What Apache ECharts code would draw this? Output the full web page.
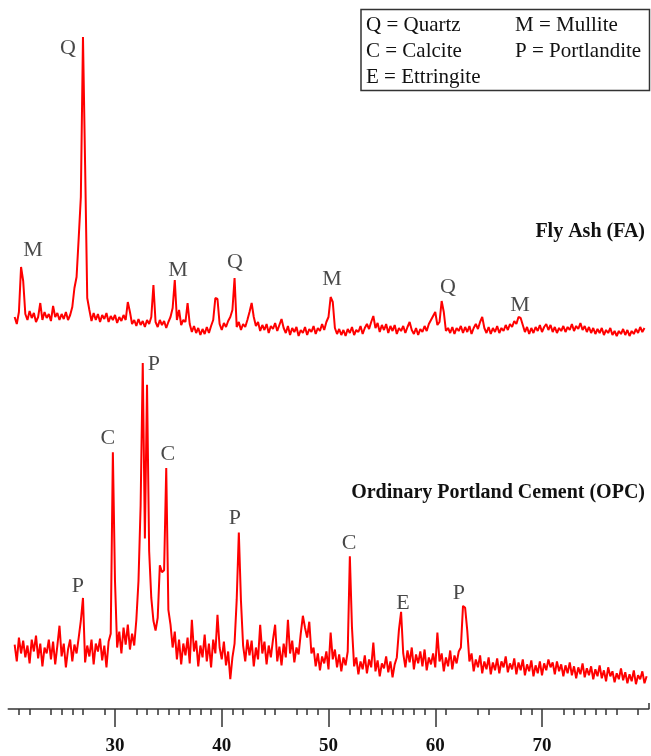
<!DOCTYPE html>
<html>
<head>
<meta charset="utf-8">
<script src="https://cdn.jsdelivr.net/npm/echarts@6/dist/echarts.min.js"></script>
<style>
html,body{margin:0;padding:0;background:#fff;}
#chart{width:651px;height:756px;}
</style>
</head>
<body>
<div id="chart"></div>
<script>
// ---- Data (2θ in degrees, intensity in arbitrary counts) ----
const twoThetaStart = 20.6;
const twoThetaStep = 0.2;

// Fly Ash (FA) intensities, 2θ = 20.6, 20.8, ... (five values per degree row)
const faIntensity = [
  330, 260, 380, 830, 690,   // 20.6-21.4
  360, 300, 390, 320, 370,   // 21.6-22.4
  280, 330, 470, 300, 380,   // 22.6-23.4
  320, 360, 290, 440, 330,   // 23.6-24.4
  370, 300, 360, 310, 380,   // 24.6-25.4
  300, 350, 430, 620, 730,   // 25.6-26.4
  1120, 1530, 3130, 1850, 520, // 26.6-27.4
  400, 290, 370, 300, 360,   // 27.6-28.4
  280, 350, 310, 370, 280,   // 28.6-29.4
  340, 300, 350, 270, 330,   // 29.6-30.4
  290, 350, 300, 480, 380,   // 30.6-31.4
  260, 300, 240, 310, 250,   // 31.6-32.4
  290, 230, 300, 260, 330,   // 32.6-33.4
  650, 280, 230, 300, 250,   // 33.6-34.4
  290, 220, 280, 330, 420,   // 34.6-35.4
  700, 300, 400, 250, 300,   // 35.6-36.4
  280, 470, 260, 180, 240,   // 36.6-37.4
  170, 220, 150, 210, 160,   // 37.6-38.4
  230, 170, 240, 300, 520,   // 38.6-39.4
  510, 260, 200, 270, 230,   // 39.6-40.4
  290, 330, 400, 720, 230,   // 40.6-41.4
  280, 200, 260, 230, 300,   // 41.6-42.4
  380, 470, 330, 240, 280,   // 42.6-43.4
  190, 250, 200, 260, 170,   // 43.6-44.4
  240, 210, 270, 190, 250,   // 44.6-45.4
  310, 220, 170, 240, 150,   // 45.6-46.4
  220, 180, 230, 140, 200,   // 46.6-47.4
  170, 230, 150, 210, 180,   // 47.6-48.4
  240, 160, 220, 190, 260,   // 48.6-49.4
  200, 280, 330, 530, 480,   // 49.6-50.4
  220, 160, 210, 150, 200,   // 50.6-51.4
  140, 210, 170, 230, 150,   // 51.6-52.4
  200, 180, 240, 160, 220,   // 52.6-53.4
  260, 210, 280, 340, 220,   // 53.6-54.4
  270, 180, 250, 200, 260,   // 54.6-55.4
  170, 240, 190, 250, 160,   // 55.6-56.4
  220, 190, 240, 170, 230,   // 56.6-57.4
  280, 200, 160, 220, 150,   // 57.6-58.4
  210, 180, 240, 190, 260,   // 58.6-59.4
  300, 340, 380, 250, 280,   // 59.6-60.4
  490, 380, 190, 220, 170,   // 60.6-61.4
  230, 160, 220, 190, 240,   // 61.6-62.4
  170, 230, 180, 240, 160,   // 62.6-63.4
  220, 260, 210, 280, 330,   // 63.6-64.4
  220, 170, 230, 160, 220,   // 64.6-65.4
  180, 240, 170, 220, 190,   // 65.6-66.4
  250, 200, 260, 230, 290,   // 66.6-67.4
  260, 330, 320, 250, 180,   // 67.6-68.4
  230, 160, 220, 170, 230,   // 68.6-69.4
  190, 250, 180, 230, 260,   // 69.6-70.4
  200, 250, 180, 230, 170,   // 70.6-71.4
  220, 190, 240, 180, 230,   // 71.6-72.4
  200, 260, 190, 240, 210,   // 72.6-73.4
  270, 200, 240, 180, 230,   // 73.6-74.4
  170, 220, 160, 210, 170,   // 74.6-75.4
  220, 150, 200, 170, 220,   // 75.6-76.4
  150, 190, 140, 190, 160,   // 76.6-77.4
  210, 150, 200, 140, 190,   // 77.6-78.4
  160, 210, 170, 230, 180,   // 78.6-79.4
  220                        // 79.6
];

// Ordinary Portland Cement (OPC) intensities, same 2θ grid
const opcIntensity = [
  650, 480, 720, 560, 690,   // 20.6-21.4
  520, 640, 460, 700, 580,   // 21.6-22.4
  740, 510, 660, 430, 620,   // 22.6-23.4
  560, 700, 500, 680, 450,   // 23.6-24.4
  640, 840, 530, 660, 420,   // 24.6-25.4
  600, 700, 480, 650, 560,   // 25.6-26.4
  720, 890, 1120, 470, 640,  // 26.6-27.4
  530, 700, 450, 660, 580,   // 27.6-28.4
  710, 490, 640, 420, 680,   // 28.6-29.4
  760, 2590, 1290, 620, 780, // 29.6-30.4
  560, 820, 650, 850, 600,   // 30.6-31.4
  760, 640, 900, 1290, 2050, // 31.6-32.4
  3490, 1720, 3270, 1590, 1120, // 32.6-33.4
  890, 790, 920, 1450, 1380, // 33.6-34.4
  1400, 2430, 1000, 850, 620, // 34.6-35.4
  780, 500, 700, 450, 660,   // 35.6-36.4
  540, 720, 460, 900, 580,   // 36.6-37.4
  690, 430, 640, 520, 750,   // 37.6-38.4
  480, 660, 420, 700, 560,   // 38.6-39.4
  950, 620, 500, 680, 440,   // 39.6-40.4
  580, 300, 520, 660, 1100,  // 40.6-41.4
  1780, 1090, 640, 480, 700, // 41.6-42.4
  540, 690, 430, 620, 500,   // 42.6-43.4
  850, 560, 680, 450, 640,   // 43.6-44.4
  520, 700, 850, 480, 630,   // 44.6-45.4
  440, 660, 520, 900, 560,   // 45.6-46.4
  690, 470, 620, 550, 760,   // 46.6-47.4
  940, 820, 720, 880, 560,   // 47.6-48.4
  620, 430, 560, 390, 530,   // 48.6-49.4
  460, 580, 400, 770, 500,   // 49.6-50.4
  600, 420, 550, 380, 520,   // 50.6-51.4
  440, 580, 1540, 820, 430,  // 51.6-52.4
  520, 350, 480, 400, 540,   // 52.6-53.4
  360, 500, 420, 670, 380,   // 53.6-54.4
  490, 330, 460, 410, 530,   // 54.6-55.4
  370, 480, 320, 450, 520,   // 55.6-56.4
  800, 980, 560, 420, 590,   // 56.6-57.4
  470, 620, 400, 550, 460,   // 57.6-58.4
  580, 430, 600, 390, 520,   // 58.6-59.4
  450, 560, 420, 770, 480,   // 59.6-60.4
  560, 380, 520, 430, 590,   // 60.6-61.4
  400, 540, 460, 580, 620,   // 61.6-62.4
  1040, 1020, 790, 480, 560, // 62.6-63.4
  380, 500, 420, 540, 360,   // 63.6-64.4
  480, 400, 520, 350, 470,   // 64.6-65.4
  390, 510, 360, 480, 420,   // 65.6-66.4
  530, 370, 460, 400, 510,   // 66.6-67.4
  350, 470, 390, 500, 340,   // 67.6-68.4
  450, 380, 490, 330, 440,   // 68.6-69.4
  360, 480, 340, 460, 390,   // 69.6-70.4
  500, 420, 470, 350, 480,   // 70.6-71.4
  380, 450, 330, 440, 360,   // 71.6-72.4
  470, 340, 430, 310, 420,   // 72.6-73.4
  350, 460, 320, 410, 340,   // 73.6-74.4
  430, 300, 400, 330, 440,   // 74.6-75.4
  310, 390, 280, 420, 330,   // 75.6-76.4
  380, 270, 360, 300, 410,   // 76.6-77.4
  290, 370, 260, 350, 280,   // 77.6-78.4
  390, 250, 340, 300, 380,   // 78.6-79.4
  260, 330                   // 79.6-79.8
];

// Phase annotations: [2θ, intensity, phase letter]
const faPhaseLabels = [
  [22.32, 1000, 'M'], [25.60, 3020, 'Q'], [35.90, 800, 'M'], [41.24, 880, 'Q'],
  [50.33, 710, 'M'], [61.19, 630, 'Q'], [67.94, 450, 'M']
];
const opcPhaseLabels = [
  [26.53, 1240, 'P'], [29.34, 2730, 'C'], [33.65, 3480, 'P'], [34.96, 2570, 'C'],
  [41.24, 1920, 'P'], [51.92, 1670, 'C'], [56.98, 1070, 'E'], [62.22, 1170, 'P']
];

const majorTicks = [30, 40, 50, 60, 70];
const minorTicks = [21,22,24,25,26,27,29,32,33,34,35,36,37,38,39,41,42,44,45,47,48,49,
                    52,53,54,55,56,57,58,59,61,64,65,68,69,72,73,74,75,76,77,79];
const legendRows = [['Q = Quartz', 'M = Mullite'], ['C = Calcite', 'P = Portlandite'], ['E = Ettringite', '']];
const sampleNames = ['Fly Ash (FA)', 'Ordinary Portland Cement (OPC)'];

// ---- Build ----
const toPairs = arr => arr.map((v, i) => [+(twoThetaStart + i * twoThetaStep).toFixed(2), v]);
const serif = '"Liberation Serif", "Times New Roman", serif';
const red = '#ff0000';

const chart = echarts.init(document.getElementById('chart'), null, {renderer: 'canvas'});

const gridL = 8.25, gridR = 2.25;
const labelSeries = (data, xi, yi) => ({
  type: 'scatter', xAxisIndex: xi, yAxisIndex: yi, symbolSize: 1,
  itemStyle: {color: 'rgba(0,0,0,0)'}, silent: true, z: 5,
  data: data.map(d => ({value: [d[0], d[1]], name: d[2]})),
  label: {show: true, position: 'inside', formatter: p => p.name,
          fontFamily: serif, fontSize: 22, color: '#1a1a1a'}
});

const legendGraphics = [{
  type: 'rect', shape: {x: 361, y: 9.5, width: 288.5, height: 81},
  style: {fill: 'none', stroke: '#333', lineWidth: 1.5}
}];
legendRows.forEach((row, r) => {
  row.forEach((t, c) => {
    if (!t) return;
    legendGraphics.push({type: 'text', x: c === 0 ? 366 : 515, y: 25 + r * 26,
      style: {text: t, font: '21px ' + serif, fill: '#111', textAlign: 'left', textVerticalAlign: 'middle'}});
  });
});
legendGraphics.push({type: 'text', x: 645, y: 232,
  style: {text: sampleNames[0], font: 'bold 20px ' + serif, fill: '#111', textAlign: 'right', textVerticalAlign: 'middle'}});
legendGraphics.push({type: 'text', x: 645, y: 493,
  style: {text: sampleNames[1], font: 'bold 20px ' + serif, fill: '#111', textAlign: 'right', textVerticalAlign: 'middle'}});

const option = {
  backgroundColor: '#fff',
  animation: false,
  grid: [
    {left: gridL, right: gridR, top: 20, height: 330},
    {left: gridL, right: gridR, top: 350, height: 362}
  ],
  xAxis: [
    {type: 'value', gridIndex: 0, min: 20, max: 80, show: false},
    {type: 'value', gridIndex: 1, min: 20, max: 80, position: 'bottom',
     splitLine: {show: false},
     axisLine: {show: true, lineStyle: {color: '#333', width: 1.5}},
     axisTick: {show: true, customValues: majorTicks, length: 18, lineStyle: {color: '#333', width: 1.5}},
     axisLabel: {show: true, customValues: majorTicks, margin: 28, fontFamily: serif, fontWeight: 'bold',
                 fontSize: 19, color: '#111'}},
    {type: 'value', gridIndex: 1, min: 20, max: 80, position: 'bottom',
     splitLine: {show: false},
     axisLine: {show: false},
     axisTick: {show: true, customValues: minorTicks, length: 6, lineStyle: {color: '#333', width: 1.5}},
     axisLabel: {show: false}},
    {type: 'value', gridIndex: 1, min: 20, max: 80, position: 'bottom',
     splitLine: {show: false},
     axisLine: {show: false},
     axisTick: {show: true, inside: true, customValues: [80], length: 6, lineStyle: {color: '#333', width: 1.5}},
     axisLabel: {show: false}}
  ],
  yAxis: [
    {type: 'value', gridIndex: 0, min: 0, max: 3300, show: false},
    {type: 'value', gridIndex: 1, min: 0, max: 3620, show: false}
  ],
  series: [
    {type: 'line', xAxisIndex: 0, yAxisIndex: 0, data: toPairs(faIntensity), showSymbol: false,
     lineStyle: {color: red, width: 2}, itemStyle: {color: red}},
    {type: 'line', xAxisIndex: 1, yAxisIndex: 1, data: toPairs(opcIntensity), showSymbol: false,
     lineStyle: {color: red, width: 2}, itemStyle: {color: red}},
    labelSeries(faPhaseLabels, 0, 0),
    labelSeries(opcPhaseLabels, 1, 1)
  ],
  graphic: legendGraphics
};
chart.setOption(option);
</script>
</body>
</html>
